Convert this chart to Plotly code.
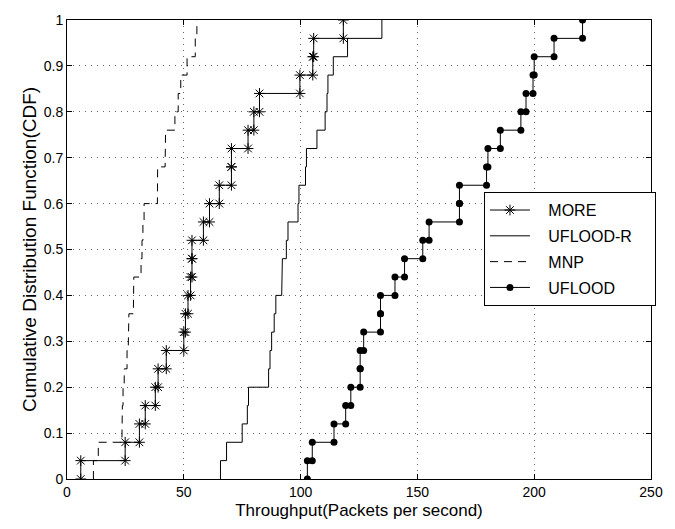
import numpy as np
import plotly.graph_objects as go

# Sample values (packets per second) read from the CDF steps
more = [5.9, 24.9, 31.0, 33.5, 37.8, 39.0, 42.5, 50.0, 50.7, 51.8, 52.9, 53.5, 53.5,
        58.4, 61.0, 65.2, 70.4, 70.4, 77.5, 80.0, 82.4, 99.7, 105.2, 105.6, 118.3]
uflood_r = [65.7, 68.3, 75.0, 77.2, 77.7, 86.3, 86.9, 87.6, 88.7, 89.4, 91.9, 92.2, 93.9,
            94.6, 98.9, 99.3, 102.1, 102.5, 107.0, 110.5, 111.3, 111.7, 114.0, 120.1, 134.8]
mnp = [11.3, 13.4, 23.5, 23.7, 24.0, 24.5, 25.7, 26.2, 26.5, 28.4, 28.6, 31.7, 32.1,
       32.5, 33.0, 38.7, 38.8, 42.0, 42.2, 46.2, 47.6, 48.7, 51.4, 54.9, 55.6]
uflood = [102.9, 105.0, 114.3, 119.3, 121.5, 125.5, 125.5, 127.0, 134.2, 134.2, 140.4, 144.5, 152.3,
          155.0, 168.0, 168.0, 179.6, 180.2, 185.5, 194.3, 196.5, 199.5, 200.0, 208.5, 220.7]

series_names = ["MORE", "UFLOOD-R", "MNP", "UFLOOD"]
x_ticks = [0, 50, 100, 150, 200, 250]
y_ticks = [0, 0.1, 0.2, 0.3, 0.4, 0.5, 0.6, 0.7, 0.8, 0.9, 1]
y_tick_text = ["0", "0.1", "0.2", "0.3", "0.4", "0.5", "0.6", "0.7", "0.8", "0.9", "1"]


def cdf_stairs(samples):
    s = np.sort(np.asarray(samples, dtype=float))
    n = len(s)
    xs, ys = [], []
    for i, v in enumerate(s):
        xs += [v, v]
        ys += [i / n, (i + 1) / n]
    return xs, ys


FONT = "Liberation Sans, Arial, Helvetica, sans-serif"
PAD = "\u00a0\u00a0\u00a0"


def label(name, extra=""):
    return PAD + name + extra


fig = go.Figure()

x, y = cdf_stairs(more)
fig.add_trace(go.Scatter(x=x, y=y, mode="lines+markers", name=label(series_names[0]), legendgroup="a",
                         line=dict(color="black", width=1),
                         marker=dict(symbol="asterisk-open", size=9, color="black",
                                     line=dict(color="black", width=1))))
x, y = cdf_stairs(uflood_r)
fig.add_trace(go.Scatter(x=x, y=y, mode="lines", name=label(series_names[1], "\u00a0\u00a0\u00a0\u00a0"),
                         legendgroup="b", line=dict(color="black", width=1)))
x, y = cdf_stairs(mnp)
fig.add_trace(go.Scatter(x=x, y=y, mode="lines", name=label(series_names[2]), legendgroup="c",
                         line=dict(color="black", width=1, dash="8px,6px")))
x, y = cdf_stairs(uflood)
fig.add_trace(go.Scatter(x=x, y=y, mode="lines+markers", name=label(series_names[3]), legendgroup="d",
                         line=dict(color="black", width=1),
                         marker=dict(symbol="circle", size=7, color="black")))

axis_common = dict(showline=True, linecolor="black", linewidth=1, mirror="ticks",
                   ticks="inside", ticklen=5, tickcolor="black",
                   showgrid=True, gridcolor="#666666", gridwidth=1, griddash="1px,5px",
                   zeroline=False, tickfont=dict(family=FONT, size=14, color="black"))

fig.update_xaxes(range=[0, 250], tickvals=x_ticks, ticktext=[str(v) for v in x_ticks],
                 title=dict(text="Throughput(Packets per second)",
                            font=dict(family=FONT, size=17, color="black"), standoff=5),
                 **axis_common)
fig.update_yaxes(range=[0, 1], tickvals=y_ticks, ticktext=y_tick_text,
                 title=dict(text="Cumulative Distribution Function(CDF)",
                            font=dict(family=FONT, size=19, color="black"), standoff=2),
                 **axis_common)

fig.update_layout(
    width=675, height=529,
    margin=dict(l=67, r=17, t=12, b=50),
    paper_bgcolor="white", plot_bgcolor="white",
    showlegend=True,
    legend=dict(x=0.714, y=0.625, xanchor="left", yanchor="top",
                bgcolor="white", bordercolor="black", borderwidth=1,
                font=dict(family=FONT, size=16, color="black"),
                tracegroupgap=2, itemwidth=40),
)

fig.write_html("out.html")
